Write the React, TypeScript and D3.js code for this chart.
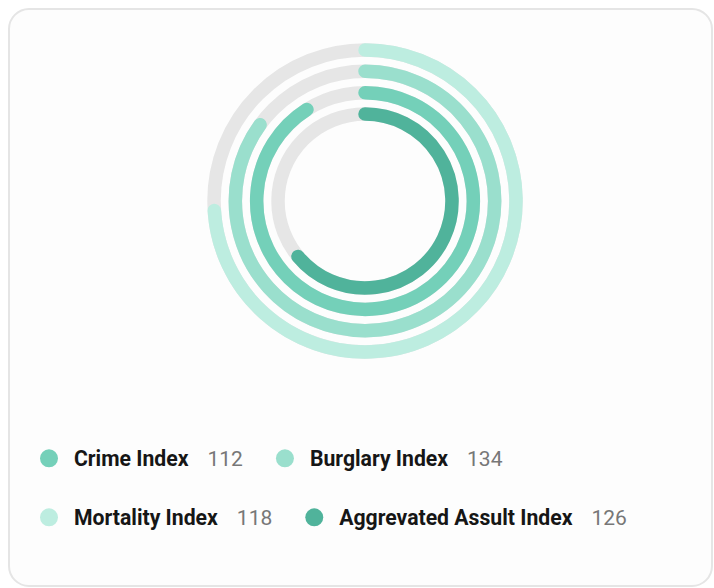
import React, { useEffect, useRef } from 'react';
import * as d3 from 'd3';

// Data
const categories = ['Crime Index', 'Burglary Index', 'Mortality Index', 'Aggrevated Assult Index'];
const legendValues = [112, 134, 118, 126];
const arcPercents = [91, 85, 74, 64];
// ring order from inner to outer
const ringOrder = ['Aggrevated Assult Index', 'Crime Index', 'Burglary Index', 'Mortality Index'];
const colors = ['#74d0b9', '#9adfcd', '#bdede0', '#50b39b'];
const legendRows = [[0, 1], [2, 3]];

const W = 714;
const H = 588;

export default function App() {
  const ref = useRef<SVGSVGElement | null>(null);

  useEffect(() => {
    const svg = d3.select(ref.current);
    svg.selectAll('*').remove();

    svg
      .append('rect')
      .attr('x', 9)
      .attr('y', 9)
      .attr('width', 703)
      .attr('height', 577)
      .attr('rx', 20)
      .attr('fill', '#fdfdfd')
      .attr('stroke', '#e5e5e5')
      .attr('stroke-width', 2);

    const cx = 365;
    const cy = 201;
    const thickness = 13.5;
    const rScale = d3.scalePoint<string>().domain(ringOrder).range([87, 151]);
    const aScale = d3.scaleLinear().domain([0, 100]).range([0, 2 * Math.PI]);

    const g = svg.append('g');
    categories.forEach((c) => {
      const r = rScale(c) as number;
      g.append('circle')
        .attr('cx', cx)
        .attr('cy', cy)
        .attr('r', r)
        .attr('fill', 'none')
        .attr('stroke', '#e6e6e6')
        .attr('stroke-width', thickness);
    });
    categories.forEach((c, i) => {
      const r = rScale(c) as number;
      const p = d3.path();
      const a0 = -Math.PI / 2;
      const a1 = a0 + aScale(arcPercents[i]);
      p.moveTo(cx + r * Math.cos(a0), cy + r * Math.sin(a0));
      p.arc(cx, cy, r, a0, a1);
      g.append('path')
        .attr('d', p.toString())
        .attr('fill', 'none')
        .attr('stroke', colors[i])
        .attr('stroke-width', thickness)
        .attr('stroke-linecap', 'round');
    });

    const baselines = [466, 525];
    legendRows.forEach((row, ri) => {
      let x = 49;
      const by = baselines[ri];
      row.forEach((idx) => {
        svg
          .append('circle')
          .attr('cx', x)
          .attr('cy', by - 7.7)
          .attr('r', 9)
          .attr('fill', colors[idx]);
        const label = svg
          .append('text')
          .attr('x', x + 25)
          .attr('y', by)
          .attr('font-family', 'Roboto')
          .attr('font-weight', 700)
          .attr('font-size', 21.2)
          .attr('fill', '#161616')
          .text(categories[idx]);
        const lw = (label.node() as SVGTextElement).getComputedTextLength();
        const vx = x + 25 + lw + 19;
        const val = svg
          .append('text')
          .attr('x', vx)
          .attr('y', by)
          .attr('font-family', 'Roboto')
          .attr('font-size', 21)
          .attr('fill', '#777777')
          .text(String(legendValues[idx]));
        const vw = (val.node() as SVGTextElement).getComputedTextLength();
        x = vx + vw + 33 + 9;
      });
    });
  }, []);

  return (
    <svg
      ref={ref}
      width={W}
      height={H}
      style={{ position: 'absolute', left: 0, top: 0, background: '#ffffff' }}
    />
  );
}
